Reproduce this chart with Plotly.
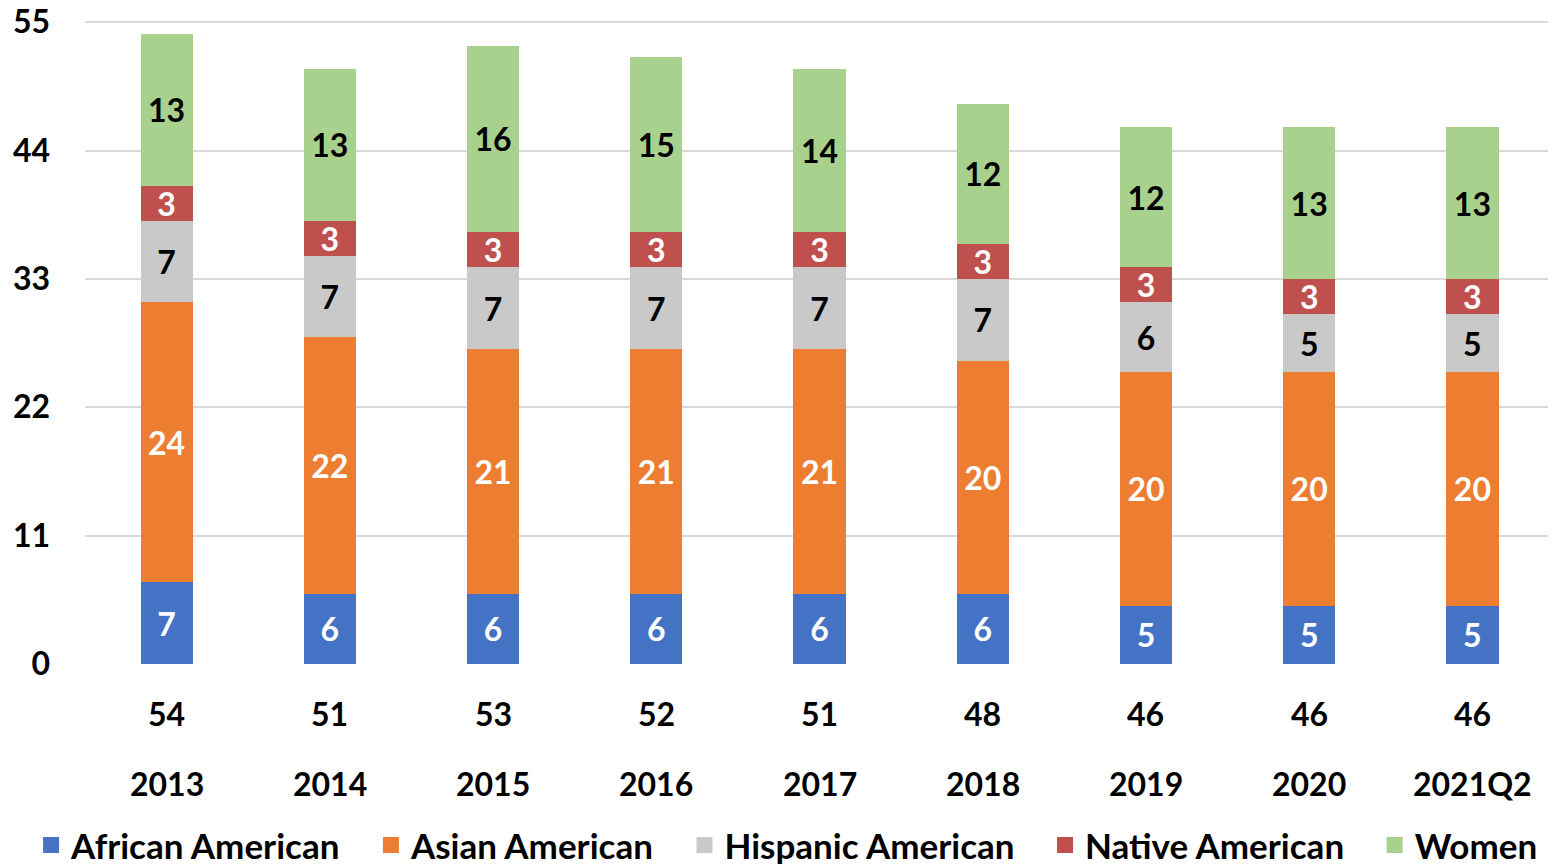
import plotly.graph_objects as go

categories = ["2013", "2014", "2015", "2016", "2017", "2018", "2019", "2020", "2021Q2"]
african_american = [7, 6, 6, 6, 6, 6, 5, 5, 5]
asian_american = [24, 22, 21, 21, 21, 20, 20, 20, 20]
hispanic_american = [7, 7, 7, 7, 7, 7, 6, 5, 5]
native_american = [3, 3, 3, 3, 3, 3, 3, 3, 3]
women = [13, 13, 16, 15, 14, 12, 12, 13, 13]
y_ticks = [0, 11, 22, 33, 44, 55]

series = [
    ("African American", african_american, "#4472C4", "white"),
    ("Asian American", asian_american, "#ED7D31", "white"),
    ("Hispanic American", hispanic_american, "#C9C9C9", "black"),
    ("Native American", native_american, "#C0504D", "white"),
    ("Women", women, "#A9D18E", "black"),
]

FONT = "Lato"
FS = 32
PAD = "\u00a0" * 3
fig = go.Figure()
for name, vals, color, tcolor in series:
    fig.add_trace(go.Bar(
        x=categories, y=vals, name=name, showlegend=False,
        marker=dict(color=color, line=dict(width=0)),
        text=[str(v) for v in vals],
        textposition="inside", insidetextanchor="middle", textangle=0,
        textfont=dict(family=FONT, size=FS, color=tcolor, weight="bold"),
    ))
# legend entries with larger square swatches
for k, (name, vals, color, tcolor) in enumerate(series):
    fig.add_trace(go.Scatter(
        x=[None], y=[None], name=name + (PAD if k < len(series) - 1 else ""), mode="markers",
        marker=dict(symbol="square", size=20, color=color),
    ))

totals = [a + b + c + d + e for a, b, c, d, e in zip(african_american, asian_american,
                                                      hispanic_american, native_american, women)]
for i, (cat, tot) in enumerate(zip(categories, totals)):
    fig.add_annotation(x=i, y=0, xref="x", yref="y", text=str(tot), showarrow=False,
                       yshift=-49, font=dict(family=FONT, size=FS, color="black", weight="bold"))
    fig.add_annotation(x=i, y=0, xref="x", yref="y", text=cat, showarrow=False,
                       yshift=-119, font=dict(family=FONT, size=FS, color="black", weight="bold"))

fig.update_layout(
    width=1548, height=856,
    barmode="stack", bargap=0.68,
    plot_bgcolor="white", paper_bgcolor="white",
    margin=dict(l=77, r=2, t=13, b=200, autoexpand=False),
    uniformtext=dict(minsize=FS, mode="show"),
    font=dict(family=FONT, size=FS, color="black"),
    showlegend=True,
    legend=dict(orientation="h", x=-0.0367, xanchor="left", y=-0.282, yanchor="middle",
                font=dict(family=FONT, size=35, color="black", weight="bold"),
                itemclick=False, traceorder="normal", itemsizing="trace"),
    xaxis=dict(type="category", range=[-0.5, len(categories) - 0.5], showticklabels=False,
               showgrid=False, zeroline=False, showline=False),
    yaxis=dict(range=[0, 55.1], tickvals=y_ticks, showgrid=True, gridcolor="#D9D9D9", gridwidth=2,
               zeroline=False, showline=False, ticklabelstandoff=34, ticklabeloverflow="allow",
               tickfont=dict(family=FONT, size=FS, color="black", weight="bold")),
)

fig.write_html("out.html")
